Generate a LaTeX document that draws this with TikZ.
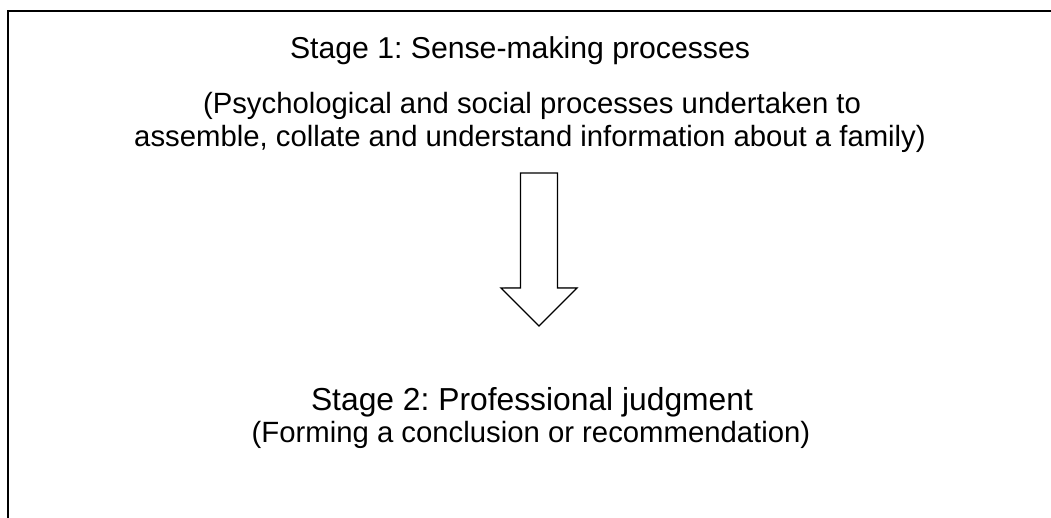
\documentclass[tikz,border=0pt]{standalone}
\usepackage{fontspec}
\setmainfont{Liberation Sans}
\usetikzlibrary{positioning}
\frenchspacing

\begin{document}
\begin{tikzpicture}[x=1pt,y=-1pt,
	stage/.style={font=\fontsize{#1}{35}\selectfont, anchor=base, inner sep=0pt},
	note/.style={font=\fontsize{29.3}{33}\selectfont, anchor=base, inner sep=0pt, align=center},
	frame/.style={line width=2.6pt},
	blockarrow/.style={line width=1.3pt, fill=white, line join=miter}]
\useasboundingbox (0,0) rectangle (1051,517);
% outer frame (only top and left edges visible)
\draw[frame] (8,540) -- (8,11) -- (1070,11);

\node[stage=30.2] (s1) at (520,58) {Stage 1: Sense-making processes};
\node[note] (n1) at (532,113) {(Psychological and social processes undertaken to};
\node[note] (n1b) at (530,146) {assemble, collate and understand information about a family)};

\node[stage=31.8] (s2) at (532,410) {Stage 2: Professional judgment};
\node[note] (n2) at (531,442) {(Forming a conclusion or recommendation)};

% down arrow between the stages
\coordinate (top) at (539,173);
\coordinate (tip) at (539,326);
\fill[black!25] ([xshift=2,yshift=2]tip) -- ++(-37,-37) -- ++(74,0) -- cycle;
\draw[blockarrow] ([xshift=-18.5]top) -- ([xshift=18.5]top) -- ++(0,115) -- ++(19.5,0)
	-- (tip) -- ++(-38,-38) -- ++(19.5,0) -- cycle;
\end{tikzpicture}
\end{document}
